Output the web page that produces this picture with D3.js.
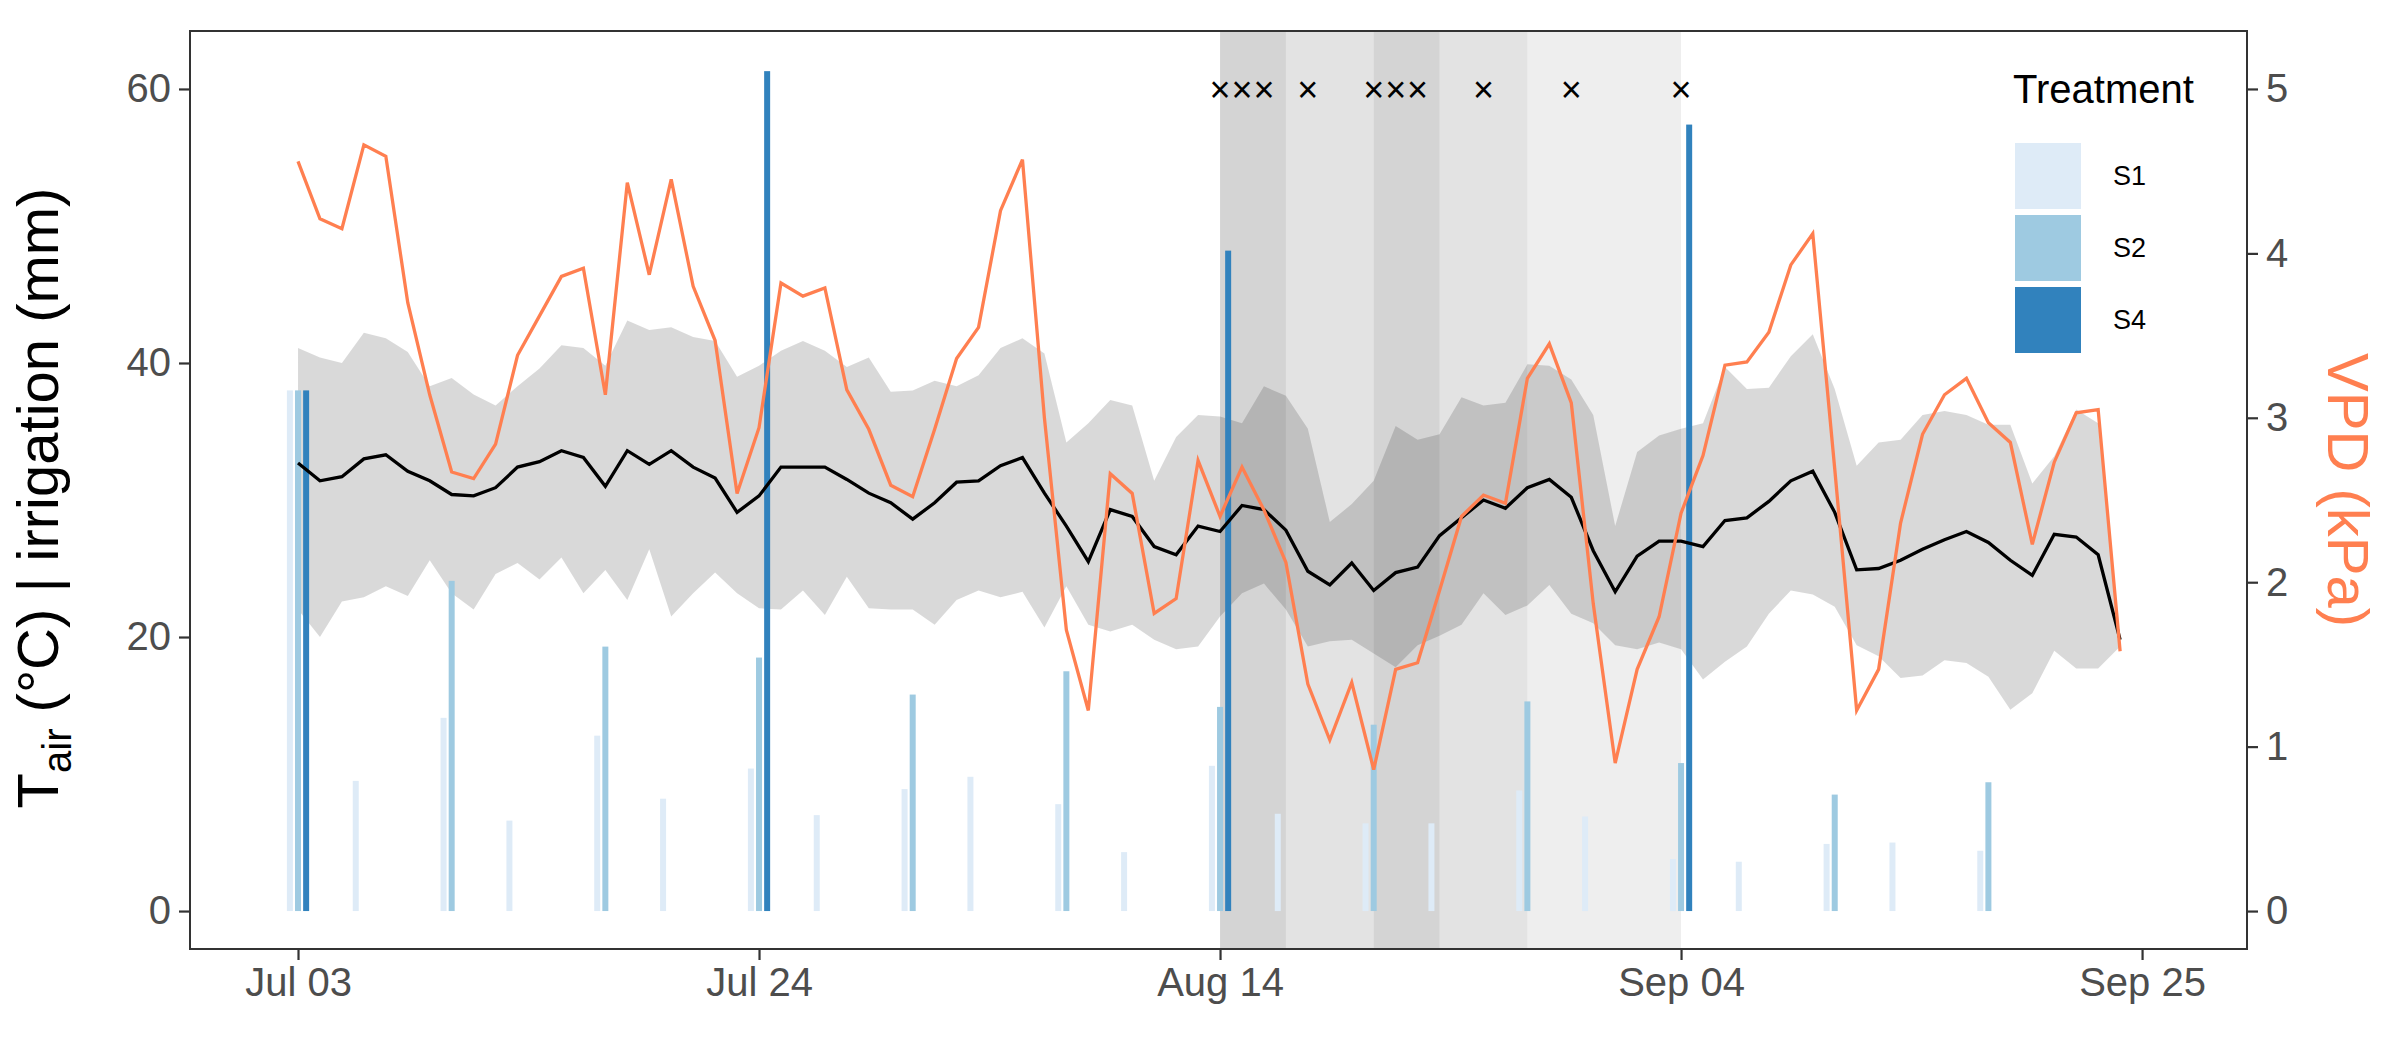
<!DOCTYPE html>
<html>
<head>
<meta charset="utf-8">
<script src="https://cdn.jsdelivr.net/npm/d3@7"></script>
<style>
  body { margin: 0; background: #fff; }
  text { font-family: "Liberation Sans", Arial, sans-serif; }
</style>
</head>
<body>
<script>
// daily series, Jul 03 .. Sep 24
var startDate = new Date(Date.UTC(2021, 6, 3));
var vpd = [4.56,4.21,4.15,4.66,4.59,3.70,3.14,2.67,2.63,2.84,3.38,3.62,3.86,3.91,3.14,4.43,3.87,4.45,3.80,3.47,
  2.54,2.94,3.82,3.74,3.79,3.17,2.93,2.59,2.52,2.93,3.36,3.55,4.26,4.57,3.00,1.71,1.22,2.66,2.54,1.81,
  1.90,2.74,2.40,2.70,2.44,2.12,1.38,1.04,1.39,0.86,1.47,1.51,1.95,2.40,2.53,2.48,3.24,3.45,3.09,1.87,
  0.90,1.47,1.79,2.42,2.77,3.32,3.34,3.52,3.93,4.12,2.69,1.22,1.47,2.36,2.90,3.14,3.24,2.97,2.85,2.23,
  2.73,3.03,3.05,1.58];
var tMean = [32.7,31.4,31.7,33.0,33.3,32.1,31.4,30.4,30.3,30.9,32.4,32.8,33.6,33.1,31.0,33.6,32.6,33.6,32.4,31.6,
  29.1,30.3,32.4,32.4,32.4,31.5,30.5,29.8,28.6,29.8,31.3,31.4,32.5,33.1,30.5,28.1,25.5,29.3,28.8,26.6,
  26.0,28.1,27.7,29.6,29.3,27.8,24.8,23.8,25.4,23.4,24.7,25.1,27.4,28.7,30.0,29.4,30.9,31.5,30.2,26.3,
  23.3,25.9,27.0,27.0,26.6,28.5,28.7,29.9,31.4,32.1,29.1,24.9,25.0,25.6,26.4,27.1,27.7,26.9,25.6,24.5,
  27.5,27.3,26.0,19.8];
var tMax = [41.1,40.4,40.0,42.2,41.8,40.8,38.3,38.9,37.7,36.9,38.3,39.6,41.3,41.1,39.8,43.1,42.4,42.6,41.9,41.6,
  39.0,39.8,40.9,41.6,40.9,39.7,40.4,37.9,38.0,38.7,38.3,39.1,41.1,41.8,40.7,34.2,35.6,37.3,36.9,31.4,
  34.6,36.2,36.1,35.6,38.3,37.6,35.2,28.4,29.7,31.4,35.4,34.4,34.8,37.5,36.9,37.1,39.9,39.8,38.8,36.2,
  28.1,33.5,34.7,35.2,35.6,39.7,38.1,38.2,40.5,42.1,38.1,32.5,34.2,34.4,36.2,36.5,36.2,35.5,35.5,31.2,
  33.2,36.6,35.6,19.5];
var tMin = [22.0,20.0,22.6,22.9,23.7,23.0,25.6,23.2,22.0,24.6,25.4,24.2,25.8,23.2,24.9,22.7,26.4,21.5,23.2,24.7,
  23.2,22.1,22.0,23.4,21.6,24.4,22.1,22.0,22.0,20.9,22.7,23.4,22.9,23.3,20.7,23.7,20.9,20.4,20.9,19.8,
  19.1,19.3,21.5,23.2,23.9,22.0,19.3,19.7,19.8,18.8,17.8,19.4,20.1,20.9,23.2,21.6,22.3,23.8,21.7,21.0,
  19.4,19.1,19.6,19.1,16.9,18.2,19.3,21.7,23.4,23.1,22.2,19.4,18.6,17.0,17.2,18.3,18.1,17.1,14.7,15.9,
  19.0,17.7,17.7,19.3];

// irrigation events: day index from Jul 03, mm
var treatments = ["S1", "S2", "S4"];
var treatColors = ["#deebf7", "#9ecae1", "#3182bd"];
var s1Days = [0,3,7,10,14,17,21,24,28,31,35,38,42,45,49,52,56,59,63,66,70,73,77];
var s1Mm   = [38.0,9.5,14.1,6.6,12.8,8.2,10.4,7.0,8.9,9.8,7.8,4.3,10.6,7.1,6.4,6.4,8.8,6.9,3.8,3.6,4.9,5.0,4.4];
var s2Days = [0,7,14,21,28,35,42,49,56,63,70,77];
var s2Mm   = [38.0,24.1,19.3,18.5,15.8,17.5,14.9,13.6,15.3,10.8,8.5,9.4];
var s4Days = [0,21,42,63];
var s4Mm   = [38.0,61.3,48.2,57.4];

// stress periods (shading) and event markers
var shadeStart = [42,45,49,52,56];
var shadeEnd   = [45,49,52,56,63];
var shadeAlpha = [0.17,0.11,0.17,0.11,0.065];
var crossDays = [42,43,44,46,49,50,51,54,58,63];

var xTicks = [0,21,42,63,84];
var yTicks = [0,20,40,60];
var vpdTicks = [0,1,2,3,4,5];

var day = function(d) { return new Date(startDate.getTime() + d * 864e5); };

var W = 2400, H = 1050;
var m = {left: 190, right: 2247, top: 31, bottom: 949};

var svg = d3.select("body").append("svg").attr("width", W).attr("height", H);

var x = d3.scaleUtc().domain([day(-4.92), day(84 + 4.78)]).range([m.left, m.right]);
var y = d3.scaleLinear().domain([-2.77, 64.23]).range([m.bottom, m.top]);
var yR = d3.scaleLinear().domain([-2.77 / 12, 64.23 / 12]).range([m.bottom, m.top]);

var plot = svg.append("g");

// shading
plot.selectAll("rect.shade").data(shadeStart).enter().append("rect")
  .attr("x", (s) => x(day(s)))
  .attr("width", (s, i) => x(day(shadeEnd[i])) - x(day(s)))
  .attr("y", m.top).attr("height", m.bottom - m.top)
  .attr("fill", "#000").attr("fill-opacity", (s, i) => shadeAlpha[i]);

// ribbon
var idx = d3.range(vpd.length);
plot.append("path").datum(idx)
  .attr("d", d3.area().x((i) => x(day(i))).y0((i) => y(tMin[i])).y1((i) => y(tMax[i])))
  .attr("fill", "#000").attr("fill-opacity", 0.15);

// irrigation bars (dodged)
var barW = 6, dodge = 0.37;
var barSets = [[s1Days, s1Mm], [s2Days, s2Mm], [s4Days, s4Mm]];
barSets.forEach(function(set, k) {
  plot.selectAll(null).data(set[0]).enter().append("rect")
    .attr("x", (d) => x(day(d + (k - 1) * dodge)) - barW / 2)
    .attr("width", barW)
    .attr("y", (d, i) => y(set[1][i]))
    .attr("height", (d, i) => y(0) - y(set[1][i]))
    .attr("fill", treatColors[k]);
});

// mean temperature
plot.append("path").datum(idx)
  .attr("d", d3.line().x((i) => x(day(i))).y((i) => y(tMean[i])))
  .attr("fill", "none").attr("stroke", "#000").attr("stroke-width", 3.3);

// VPD
plot.append("path").datum(idx)
  .attr("d", d3.line().x((i) => x(day(i))).y((i) => yR(vpd[i])))
  .attr("fill", "none").attr("stroke", "#ff7f50").attr("stroke-width", 3.3);

// crosses
plot.selectAll("text.cross").data(crossDays).enter().append("text")
  .attr("x", (d) => x(day(d))).attr("y", y(60)).attr("dy", "0.36em")
  .attr("text-anchor", "middle").attr("font-size", 36).text("×");

// panel border
svg.append("rect").attr("x", m.left).attr("y", m.top)
  .attr("width", m.right - m.left).attr("height", m.bottom - m.top)
  .attr("fill", "none").attr("stroke", "#333").attr("stroke-width", 2);

function styleAxis(g) {
  g.select(".domain").remove();
  g.selectAll(".tick line").attr("stroke", "#333").attr("stroke-width", 2.2);
  g.selectAll(".tick text").attr("fill", "#4d4d4d").attr("font-size", 40)
    .attr("font-family", "Liberation Sans, Arial, sans-serif");
}

svg.append("g").attr("transform", `translate(0,${m.bottom})`)
  .call(d3.axisBottom(x).tickValues(xTicks.map(day)).tickFormat(d3.utcFormat("%b %d")).tickSize(11).tickPadding(8))
  .call(styleAxis);
svg.append("g").attr("transform", `translate(${m.left},0)`)
  .call(d3.axisLeft(y).tickValues(yTicks).tickSize(11).tickPadding(8))
  .call(styleAxis);
svg.append("g").attr("transform", `translate(${m.right},0)`)
  .call(d3.axisRight(yR).tickValues(vpdTicks).tickFormat(d3.format("d")).tickSize(11).tickPadding(8))
  .call(styleAxis);

// axis titles
var lt = svg.append("text").attr("transform", `translate(58,${(m.top + m.bottom) / 2 + 8}) rotate(-90)`)
  .attr("text-anchor", "middle").attr("font-size", 58).attr("fill", "#000");
lt.append("tspan").text("T");
lt.append("tspan").attr("font-size", 40).attr("dy", 13).text("air");
lt.append("tspan").attr("dy", -13).text(" (°C) | irrigation (mm)");

svg.append("text").attr("transform", `translate(2328,${(m.top + m.bottom) / 2}) rotate(90)`)
  .attr("text-anchor", "middle").attr("font-size", 58).attr("fill", "#ff7f50").text("VPD (kPa)");

// legend
var lg = svg.append("g").attr("transform", "translate(2013,0)");
lg.append("text").attr("x", 0).attr("y", 103).attr("font-size", 40).text("Treatment");
treatments.forEach(function(t, k) {
  lg.append("rect").attr("x", 2).attr("y", 143 + k * 72).attr("width", 66).attr("height", 66)
    .attr("fill", treatColors[k]);
  lg.append("text").attr("x", 100).attr("y", 176 + k * 72).attr("dy", "0.35em")
    .attr("font-size", 27).text(t);
});
</script>
</body>
</html>
